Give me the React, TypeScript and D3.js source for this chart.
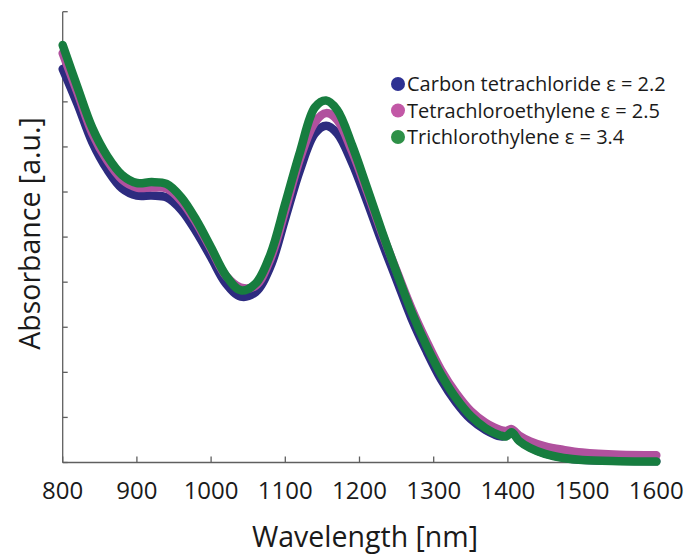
import React from "react";
import * as d3 from "d3";

const wavelengths = [800, 820, 840, 860, 880, 900, 920, 940, 960, 980, 1000, 1020, 1040, 1060, 1080, 1100, 1120, 1140, 1155, 1170, 1190, 1210, 1230, 1250, 1270, 1290, 1310, 1330, 1350, 1370, 1390, 1398, 1405, 1415, 1430, 1450, 1475, 1500, 1550, 1600];

const carbonTetrachloride = [8.73, 7.95, 7.1, 6.5, 6.08, 5.92, 5.92, 5.88, 5.6, 5.12, 4.55, 3.97, 3.68, 3.78, 4.35, 5.42, 6.5, 7.3, 7.47, 7.3, 6.65, 5.8, 4.9, 4.05, 3.2, 2.48, 1.84, 1.34, 0.96, 0.72, 0.58, 0.6, 0.72, 0.5, 0.34, 0.2, 0.11, 0.06, 0.04, 0.03];
const tetrachloroethylene = [9.08, 8.2, 7.3, 6.7, 6.28, 6.1, 6.1, 6.08, 5.8, 5.32, 4.73, 4.14, 3.88, 3.92, 4.52, 5.6, 6.75, 7.55, 7.75, 7.6, 6.9, 6.02, 5.1, 4.25, 3.42, 2.7, 2.05, 1.54, 1.14, 0.88, 0.72, 0.7, 0.74, 0.6, 0.47, 0.36, 0.28, 0.22, 0.17, 0.16];
const trichlorothylene = [9.26, 8.32, 7.42, 6.8, 6.38, 6.2, 6.22, 6.18, 5.88, 5.38, 4.77, 4.15, 3.82, 3.97, 4.62, 5.75, 6.9, 7.88, 8.03, 7.82, 7.04, 6.1, 5.14, 4.22, 3.35, 2.6, 1.95, 1.43, 1.03, 0.76, 0.6, 0.58, 0.67, 0.48, 0.32, 0.19, 0.1, 0.055, 0.03, 0.02];

const seriesNames = ["Carbon tetrachloride \u03b5 = 2.2", "Tetrachloroethylene \u03b5 = 2.5", "Trichlorothylene \u03b5 = 3.4"];
const seriesValues = [carbonTetrachloride, tetrachloroethylene, trichlorothylene];
const lineColors = ["#2D2B7F", "#B0519E", "#177D3F"];
const dotColors = ["#2E3192", "#C258A6", "#2E9047"];

const xTicks = [800, 900, 1000, 1100, 1200, 1300, 1400, 1500, 1600];
const yTicks = [0, 1, 2, 3, 4, 5, 6, 7, 8, 9, 10];

const xLabel = "Wavelength [nm]";
const yLabel = "Absorbance [a.u.]";

export default function App() {
  const W = 691, H = 555;
  const x = d3.scaleLinear().domain([800, 1600]).range([62.7, 656.3]);
  const y = d3.scaleLinear().domain([0, 10]).range([462.5, 11.7]);
  const line = d3
    .line<number>()
    .x((_, i) => x(wavelengths[i]))
    .y((d) => y(d))
    .curve(d3.curveCatmullRom.alpha(0.5));
  const axisColor = "#5f5f5f";
  const font = "'Open Sans', sans-serif";

  return (
    <svg width={W} height={H} style={{ position: "absolute", left: 0, top: 0, background: "#fff" }}>
      {/* y axis */}
      <line x1={x(800)} x2={x(800)} y1={y(10)} y2={y(0)} stroke={axisColor} strokeWidth={1.3} />
      {yTicks.map((t) => (
        <line key={"yt" + t} x1={x(800)} x2={x(800) + 5} y1={y(t)} y2={y(t)} stroke={axisColor} strokeWidth={1.3} />
      ))}
      {/* x axis */}
      <line x1={x(800)} x2={x(1600)} y1={y(0)} y2={y(0)} stroke={axisColor} strokeWidth={1.3} />
      {xTicks.map((t) => (
        <g key={"xt" + t}>
          <line x1={x(t)} x2={x(t)} y1={y(0)} y2={y(0) - 6} stroke={axisColor} strokeWidth={1.3} />
          <text x={x(t)} y={499} textAnchor="middle" fontFamily={font} fontSize={24} fill="#1a1a1a">
            {t}
          </text>
        </g>
      ))}
      {/* series */}
      {seriesValues.map((vals, i) => (
        <path
          key={"s" + i}
          d={line(vals) || ""}
          fill="none"
          stroke={lineColors[i]}
          strokeWidth={8.5}
          strokeLinecap="round"
          strokeLinejoin="round"
        />
      ))}
      {/* legend */}
      {seriesNames.map((n, i) => (
        <g key={"lg" + i} transform={`translate(398, ${84 + i * 26.5})`}>
          <circle cx={0} cy={0} r={7} fill={dotColors[i]} />
          <text x={9} y={7} fontFamily={font} fontSize={20} fill="#1a1a1a">
            {n}
          </text>
        </g>
      ))}
      {/* axis titles */}
      <text x={365} y={547} textAnchor="middle" fontFamily={font} fontSize={28.5} fill="#1a1a1a">
        {xLabel}
      </text>
      <text
        transform={`translate(40, ${233.5}) rotate(-90)`}
        textAnchor="middle"
        fontFamily={font}
        fontSize={28.5}
        fill="#1a1a1a"
      >
        {yLabel}
      </text>
    </svg>
  );
}
